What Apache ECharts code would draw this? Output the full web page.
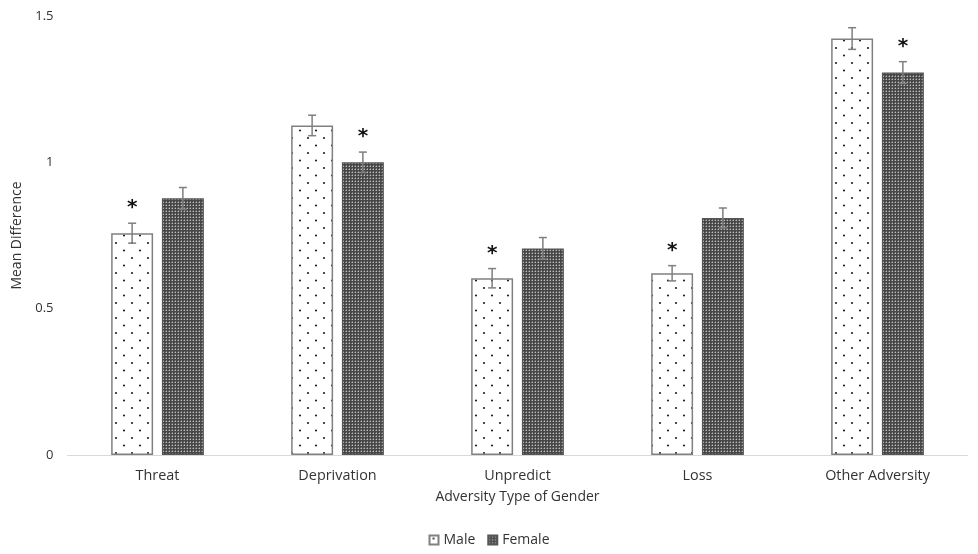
<!DOCTYPE html>
<html><head><meta charset="utf-8">
<script src="https://cdn.jsdelivr.net/npm/echarts@6/dist/echarts.min.js"></script>
<style>html,body{margin:0;padding:0;background:#fff}#c{width:978px;height:554px}</style>
</head><body><div id="c"></div>
<script>
var categories = ['Threat', 'Deprivation', 'Unpredict', 'Loss', 'Other Adversity'];
var maleValues = [0.758, 1.126, 0.604, 0.621, 1.423];
var femaleValues = [0.877, 1.000, 0.706, 0.810, 1.307];
var maleErrors = [0.034, 0.035, 0.033, 0.026, 0.037];
var femaleErrors = [0.037, 0.035, 0.037, 0.034, 0.037];
var maleStar = [true, false, true, true, false];
var femaleStar = [false, true, false, false, true];
var yTicks = [0, 0.5, 1, 1.5];

function malePattern() {
  var c = document.createElement('canvas'); c.width = 16; c.height = 15;
  var g = c.getContext('2d');
  g.fillStyle = '#ffffff'; g.fillRect(0, 0, 16, 15);
  g.fillStyle = '#222222';
  g.beginPath(); g.arc(4, 3, 1.1, 0, Math.PI * 2); g.fill();
  g.beginPath(); g.arc(12, 10.5, 1.1, 0, Math.PI * 2); g.fill();
  return c;
}
function femalePattern() {
  var c = document.createElement('canvas'); c.width = 3; c.height = 3;
  var g = c.getContext('2d');
  g.fillStyle = '#474747'; g.fillRect(0, 0, 3, 3);
  g.fillStyle = '#bdbdbd'; g.fillRect(1, 1, 1, 1);
  g.fillStyle = '#7a7a7a'; g.fillRect(0, 1, 1, 1); g.fillRect(1, 0, 1, 1);
  return c;
}

var BW = 0.233, GAP = 0.21;
function errItem(values, errors, stars, side) {
  return function (params, api) {
    var i = api.value(0);
    var band = api.size([1, 0])[0];
    var bw = band * BW;
    var off = side * (bw + bw * GAP) / 2;
    var v = values[i], e = errors[i];
    var ctr = api.coord([i, v]);
    var x = ctr[0] + off;
    var top = api.coord([i, v + e])[1];
    var bot = api.coord([i, v - e])[1];
    var st = { stroke: '#7f7f7f', lineWidth: 1.5 };
    var children = [
      { type: 'line', shape: { x1: x, y1: top, x2: x, y2: bot }, style: st },
      { type: 'line', shape: { x1: x - 4, y1: top, x2: x + 4, y2: top }, style: st },
      { type: 'line', shape: { x1: x - 4, y1: bot, x2: x + 4, y2: bot }, style: st }
    ];
    if (stars[i]) {
      children.push({ type: 'text', style: { x: x, y: top - 5, text: '*', fill: '#111', font: 'bold 20px "DejaVu Sans"', align: 'center', verticalAlign: 'bottom' } });
    }
    return { type: 'group', children: children };
  };
}

var chart = echarts.init(document.getElementById('c'), null, { renderer: 'canvas' });
var idx = categories.map(function (_, i) { return [i]; });
chart.setOption({
  animation: false,
  textStyle: { fontFamily: 'Open Sans' },
  grid: { left: 67.5, right: 10.5, top: 16, bottom: 99, containLabel: false, outerBoundsMode: 'none' },
  legend: {
    bottom: 2, left: 'center', itemWidth: 9, itemHeight: 9, itemGap: 12,
    textStyle: { color: '#333333', fontSize: 14 },
    data: [{ name: 'Male', icon: 'rect' }, { name: 'Female', icon: 'rect' }]
  },
  xAxis: {
    type: 'category', data: categories,
    axisLine: { lineStyle: { color: '#d9d9d9', width: 1 } },
    axisTick: { show: false },
    axisLabel: { color: '#333333', fontSize: 14.4, margin: 14 },
    name: 'Adversity Type of Gender', nameLocation: 'middle', nameGap: 35,
    nameTextStyle: { color: '#333333', fontSize: 14 }
  },
  yAxis: {
    type: 'value', min: 0, max: 1.5, interval: 0.5,
    axisLine: { show: false }, axisTick: { show: false }, splitLine: { show: false },
    axisLabel: { color: '#333333', fontSize: 13, margin: 14, formatter: function (v) { return yTicks.indexOf(v) >= 0 ? String(v) : ''; } },
    name: 'Mean Difference', nameLocation: 'middle', nameGap: 43,
    nameTextStyle: { color: '#333333', fontSize: 14 }
  },
  series: [
    { name: 'Male', type: 'bar', data: maleValues, barWidth: (BW * 100) + '%', barGap: (GAP * 100) + '%',
      itemStyle: { color: { image: malePattern(), repeat: 'repeat' }, borderColor: '#808080', borderWidth: 1.5 } },
    { name: 'Female', type: 'bar', data: femaleValues, barWidth: (BW * 100) + '%',
      itemStyle: { color: { image: femalePattern(), repeat: 'repeat' }, borderColor: '#555555', borderWidth: 1.2 } },
    { type: 'custom', data: idx, renderItem: errItem(maleValues, maleErrors, maleStar, -1), z: 5, silent: true },
    { type: 'custom', data: idx, renderItem: errItem(femaleValues, femaleErrors, femaleStar, 1), z: 5, silent: true }
  ]
});
</script></body></html>
